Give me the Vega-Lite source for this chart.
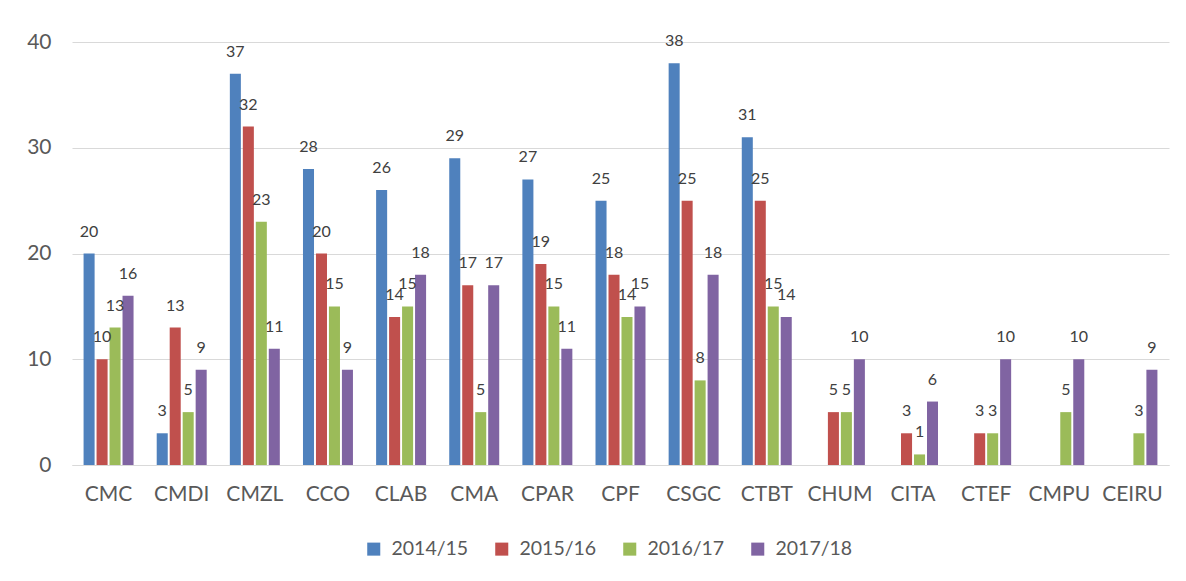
{
  "$schema": "https://vega.github.io/schema/vega-lite/v6.json",
  "width": 1097,
  "height": 423,
  "autosize": {"type": "none"},
  "padding": {"left": 72, "top": 42, "right": 17, "bottom": 116},
  "background": "white",
  "config": {
    "font": "Lato",
    "view": {"stroke": null},
    "axis": {"labelFont": "Lato", "labelColor": "#595959", "labelFontSize": 21}
  },
  "data": {
    "values": [
      {"unit": "CMC", "year": "2014/15", "n": 20},
      {"unit": "CMC", "year": "2015/16", "n": 10},
      {"unit": "CMC", "year": "2016/17", "n": 13},
      {"unit": "CMC", "year": "2017/18", "n": 16},
      {"unit": "CMDI", "year": "2014/15", "n": 3},
      {"unit": "CMDI", "year": "2015/16", "n": 13},
      {"unit": "CMDI", "year": "2016/17", "n": 5},
      {"unit": "CMDI", "year": "2017/18", "n": 9},
      {"unit": "CMZL", "year": "2014/15", "n": 37},
      {"unit": "CMZL", "year": "2015/16", "n": 32},
      {"unit": "CMZL", "year": "2016/17", "n": 23},
      {"unit": "CMZL", "year": "2017/18", "n": 11},
      {"unit": "CCO", "year": "2014/15", "n": 28},
      {"unit": "CCO", "year": "2015/16", "n": 20},
      {"unit": "CCO", "year": "2016/17", "n": 15},
      {"unit": "CCO", "year": "2017/18", "n": 9},
      {"unit": "CLAB", "year": "2014/15", "n": 26},
      {"unit": "CLAB", "year": "2015/16", "n": 14},
      {"unit": "CLAB", "year": "2016/17", "n": 15},
      {"unit": "CLAB", "year": "2017/18", "n": 18},
      {"unit": "CMA", "year": "2014/15", "n": 29},
      {"unit": "CMA", "year": "2015/16", "n": 17},
      {"unit": "CMA", "year": "2016/17", "n": 5},
      {"unit": "CMA", "year": "2017/18", "n": 17},
      {"unit": "CPAR", "year": "2014/15", "n": 27},
      {"unit": "CPAR", "year": "2015/16", "n": 19},
      {"unit": "CPAR", "year": "2016/17", "n": 15},
      {"unit": "CPAR", "year": "2017/18", "n": 11},
      {"unit": "CPF", "year": "2014/15", "n": 25},
      {"unit": "CPF", "year": "2015/16", "n": 18},
      {"unit": "CPF", "year": "2016/17", "n": 14},
      {"unit": "CPF", "year": "2017/18", "n": 15},
      {"unit": "CSGC", "year": "2014/15", "n": 38},
      {"unit": "CSGC", "year": "2015/16", "n": 25},
      {"unit": "CSGC", "year": "2016/17", "n": 8},
      {"unit": "CSGC", "year": "2017/18", "n": 18},
      {"unit": "CTBT", "year": "2014/15", "n": 31},
      {"unit": "CTBT", "year": "2015/16", "n": 25},
      {"unit": "CTBT", "year": "2016/17", "n": 15},
      {"unit": "CTBT", "year": "2017/18", "n": 14},
      {"unit": "CHUM", "year": "2015/16", "n": 5},
      {"unit": "CHUM", "year": "2016/17", "n": 5},
      {"unit": "CHUM", "year": "2017/18", "n": 10},
      {"unit": "CITA", "year": "2015/16", "n": 3},
      {"unit": "CITA", "year": "2016/17", "n": 1},
      {"unit": "CITA", "year": "2017/18", "n": 6},
      {"unit": "CTEF", "year": "2015/16", "n": 3},
      {"unit": "CTEF", "year": "2016/17", "n": 3},
      {"unit": "CTEF", "year": "2017/18", "n": 10},
      {"unit": "CMPU", "year": "2016/17", "n": 5},
      {"unit": "CMPU", "year": "2017/18", "n": 10},
      {"unit": "CEIRU", "year": "2016/17", "n": 3},
      {"unit": "CEIRU", "year": "2017/18", "n": 9}
    ]
  },
  "encoding": {
    "x": {
      "field": "unit",
      "type": "nominal",
      "sort": ["CMC", "CMDI", "CMZL", "CCO", "CLAB", "CMA", "CPAR", "CPF", "CSGC", "CTBT", "CHUM", "CITA", "CTEF", "CMPU", "CEIRU"],
      "scale": {"paddingInner": 0.29, "paddingOuter": 0.145},
      "axis": {"title": null, "labelAngle": 0, "ticks": false, "domainColor": "#D9D9D9", "domainWidth": 1, "labelPadding": 18, "grid": false}
    },
    "xOffset": {
      "field": "year",
      "type": "nominal",
      "sort": ["2014/15", "2015/16", "2016/17", "2017/18"],
      "scale": {"paddingInner": 0.15, "paddingOuter": 0.075}
    },
    "y": {
      "field": "n",
      "type": "quantitative",
      "scale": {"domain": [0, 40], "nice": false},
      "axis": {"title": null, "values": [0, 10, 20, 30, 40], "ticks": false, "domain": false, "gridColor": "#D9D9D9", "gridWidth": 1, "labelPadding": 21}
    }
  },
  "layer": [
    {
      "mark": {"type": "bar"},
      "encoding": {
        "color": {
          "field": "year",
          "type": "nominal",
          "sort": ["2014/15", "2015/16", "2016/17", "2017/18"],
          "scale": {"domain": ["2014/15", "2015/16", "2016/17", "2017/18"], "range": ["#4F81BD", "#C0504D", "#9BBB59", "#8064A2"]},
          "legend": {
            "title": null,
            "orient": "none",
            "direction": "horizontal",
            "legendX": 292,
            "legendY": 497,
            "symbolType": "square",
            "symbolSize": 170,
            "symbolStrokeWidth": 0,
            "labelFontSize": 19.5,
            "labelColor": "#595959",
            "labelFont": "Lato",
            "labelOffset": 8,
            "columnPadding": 23
          }
        }
      }
    },
    {
      "mark": {"type": "text", "baseline": "middle", "align": "center", "dy": -22, "fontSize": 16, "color": "#404040", "font": "Lato"},
      "encoding": {
        "text": {"field": "n", "type": "quantitative"}
      }
    }
  ]
}
